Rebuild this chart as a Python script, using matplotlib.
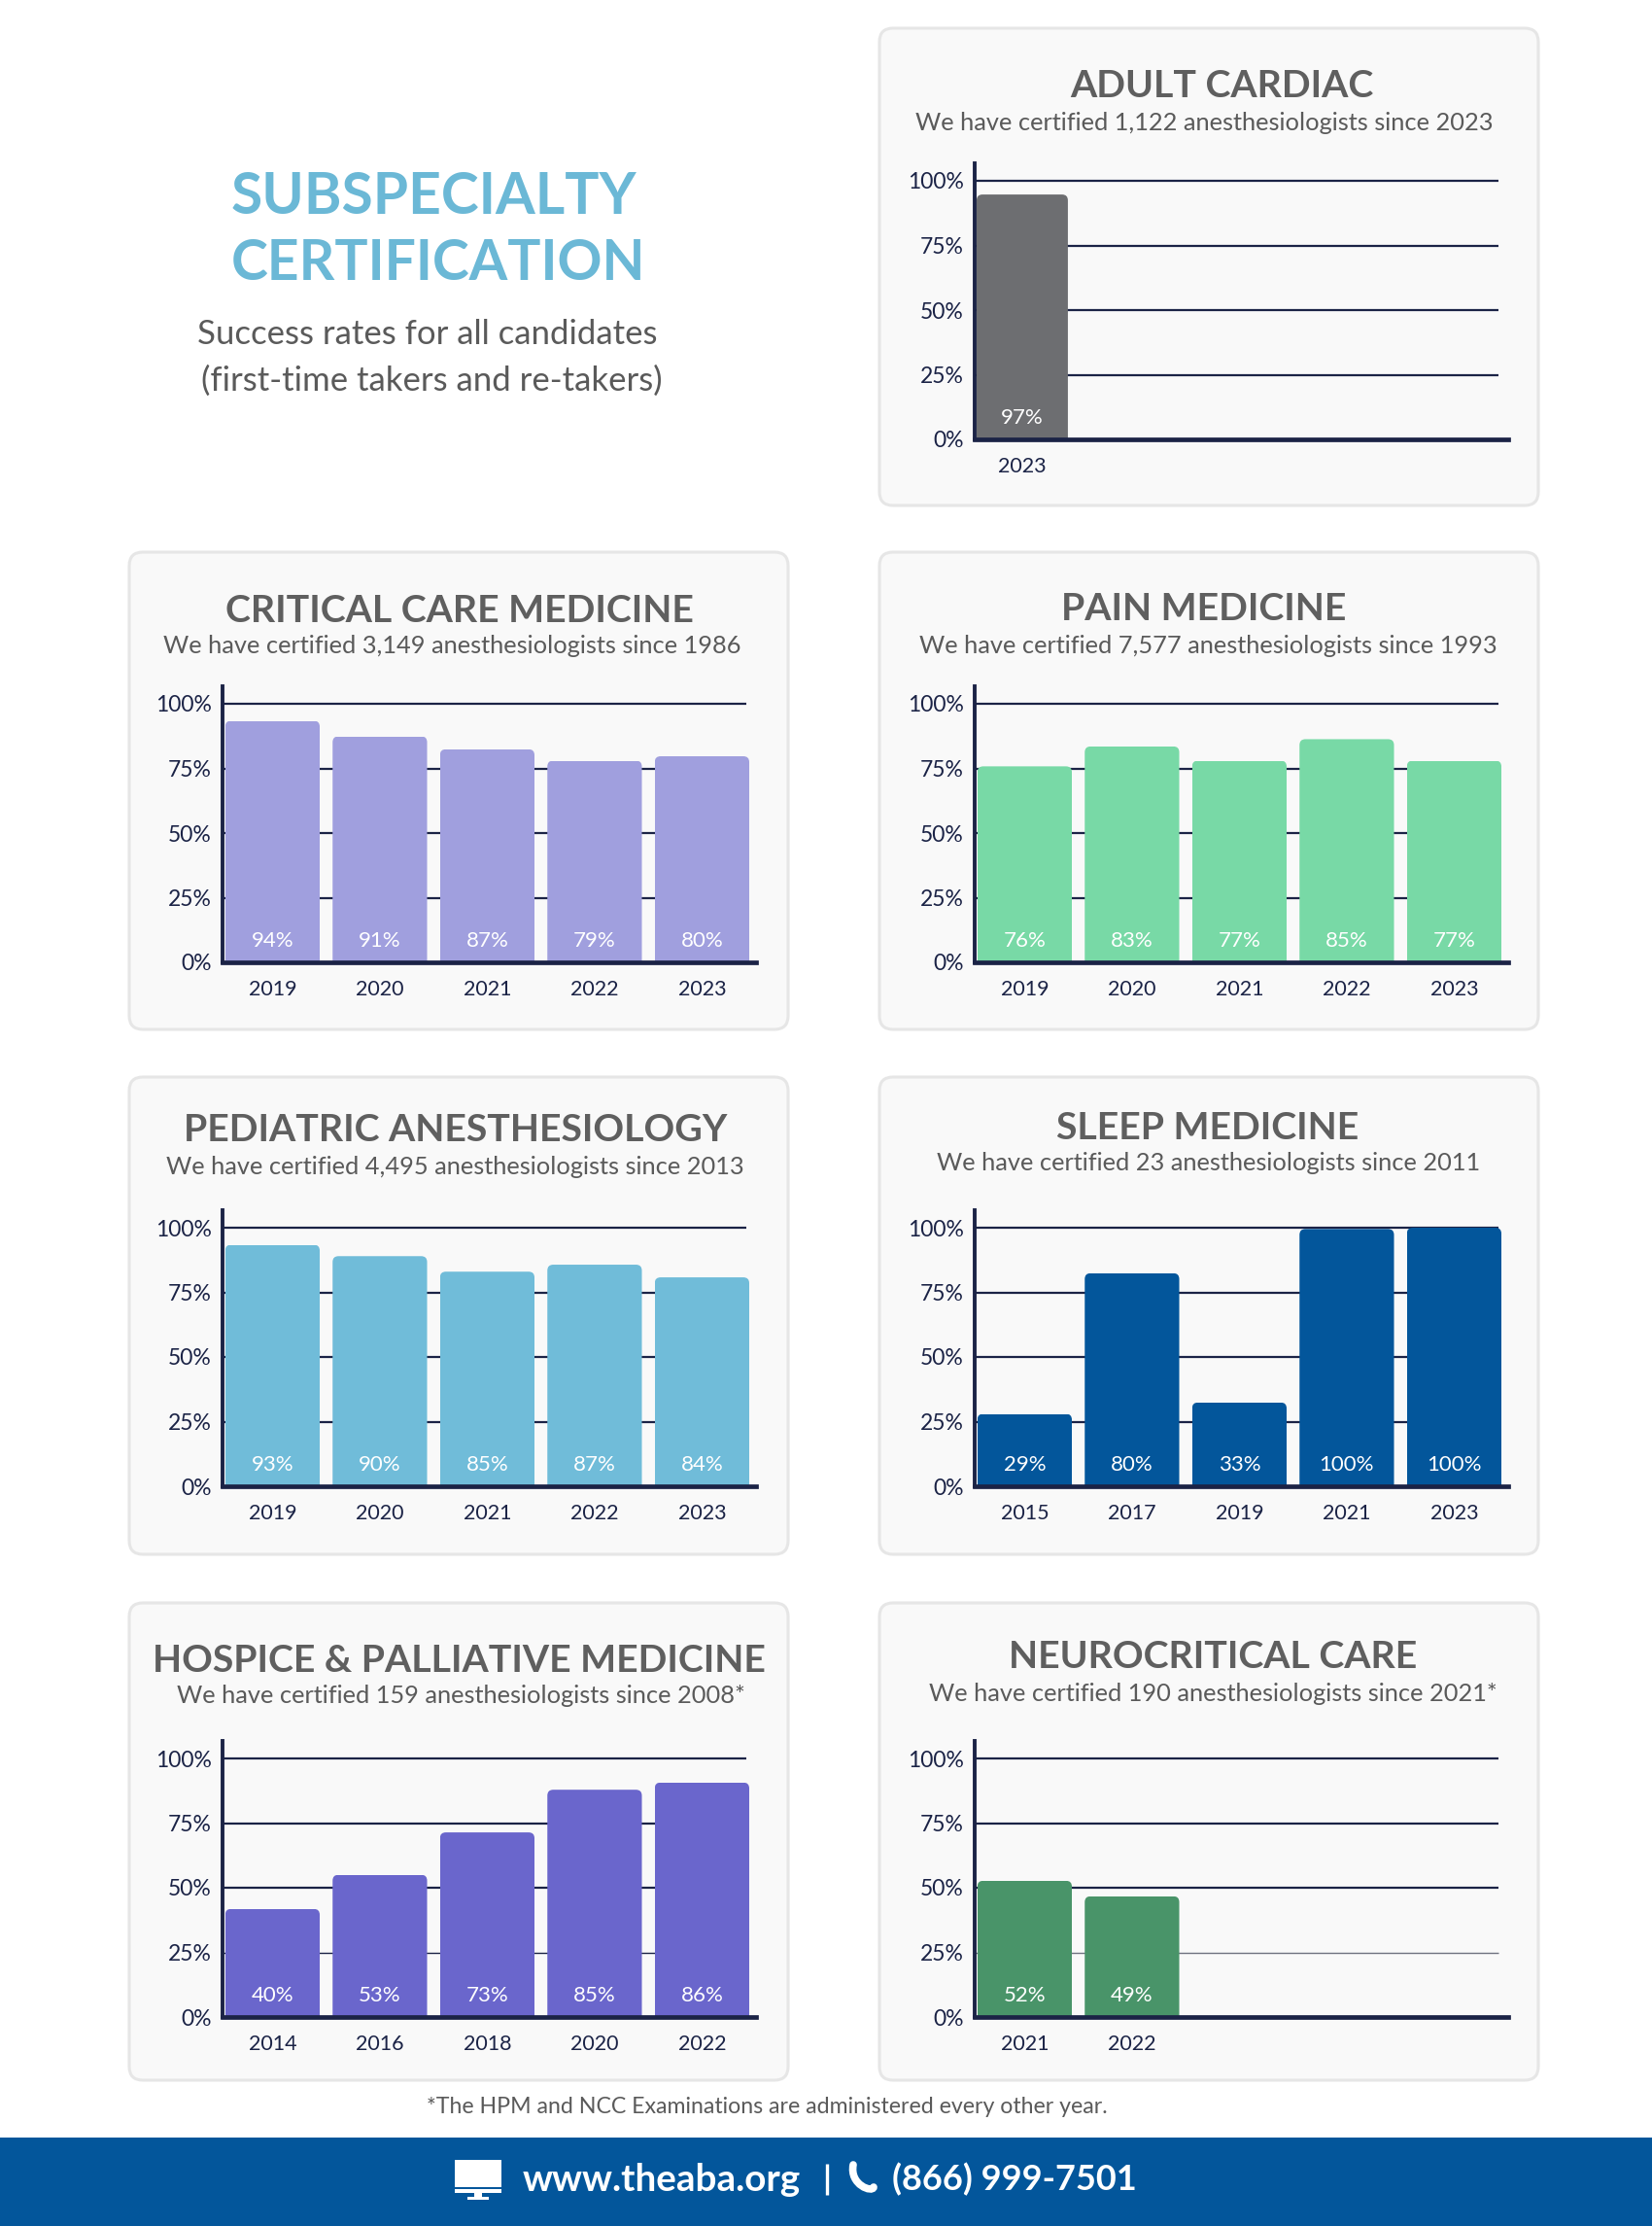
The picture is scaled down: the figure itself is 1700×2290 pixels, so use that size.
import matplotlib
matplotlib.use('Agg')
import matplotlib.pyplot as plt
from matplotlib.patches import FancyBboxPatch, Rectangle, PathPatch
from matplotlib.path import Path

plt.rcParams['font.family'] = ['Lato', 'DejaVu Sans']

# bar heights as drawn and the printed labels differ in the source, so both are kept
cardiac_years = ['2023']
cardiac_heights = [94.7]
cardiac_labels = ['97%']

critical_years = ['2019', '2020', '2021', '2022', '2023']
critical_heights = [93.4, 87.4, 82.4, 78.0, 79.7]
critical_labels = ['94%', '91%', '87%', '79%', '80%']

pain_years = ['2019', '2020', '2021', '2022', '2023']
pain_heights = [75.8, 83.5, 78.0, 86.3, 78.0]
pain_labels = ['76%', '83%', '77%', '85%', '77%']

pediatric_years = ['2019', '2020', '2021', '2022', '2023']
pediatric_heights = [93.4, 89.0, 83.0, 85.7, 80.8]
pediatric_labels = ['93%', '90%', '85%', '87%', '84%']

sleep_years = ['2015', '2017', '2019', '2021', '2023']
sleep_heights = [28.0, 82.4, 32.4, 99.5, 100.0]
sleep_labels = ['29%', '80%', '33%', '100%', '100%']

hospice_years = ['2014', '2016', '2018', '2020', '2022']
hospice_heights = [41.8, 55.0, 71.4, 87.9, 90.7]
hospice_labels = ['40%', '53%', '73%', '85%', '86%']

neuro_years = ['2021', '2022']
neuro_heights = [52.7, 46.7]
neuro_labels = ['52%', '49%']

y_ticks = [0, 25, 50, 75, 100]
y_tick_labels = ['0%', '25%', '50%', '75%', '100%']

W, H = 1700, 2290
NAVY = '#1b2346'
TITLE_GREY = '#5f5f5f'
SUB_GREY = '#5a5a5a'
SLOT = 110.5
PLOT_W = 549
PLOT_H = 266
TOP_EXTRA = 18
TITLE_SIZE = 28.3
SUB_SIZE = 18.3

fig = plt.figure(figsize=(17, 22.9), dpi=100, facecolor='white')

# page layer in pixel coordinates for cards, headings and footer
page = fig.add_axes([0, 0, 1, 1], zorder=0)
page.set_xlim(0, W)
page.set_ylim(H, 0)
page.axis('off')


def add_panel(card_x, card_y, axis_x, base_y, title, title_xy, sub, sub_xy,
              years, heights, labels, color, low_line=(1.6, NAVY)):
    card = FancyBboxPatch((card_x + 12, card_y + 12), 678 - 24, 491 - 24,
                          boxstyle='round,pad=12,rounding_size=14',
                          fc='#f9f9f9', ec='#e6e6e6', lw=2.2)
    page.add_patch(card)
    page.text(title_xy[0], title_xy[1], title, ha='center', va='center',
              fontsize=TITLE_SIZE, fontweight='bold', color=TITLE_GREY)
    page.text(sub_xy[0], sub_xy[1], sub, ha='center', va='center',
              fontsize=SUB_SIZE, color=SUB_GREY)

    ax = fig.add_axes([axis_x / W, (H - base_y) / H, PLOT_W / W, (PLOT_H + TOP_EXTRA) / H],
                      zorder=1)
    ax.patch.set_alpha(0)
    x_left = -0.443 if len(years) == 1 else -0.465
    x_right = x_left + PLOT_W / SLOT
    ax.set_xlim(x_left, x_right)
    ax.set_ylim(0, 100 + TOP_EXTRA * 100 / PLOT_H)

    # the 25% line is fainter on some of the cards
    ax.hlines(y_ticks[2:], x_left, x_right - 10 / SLOT, color=NAVY, lw=1.6, zorder=1)
    ax.hlines(y_ticks[1], x_left, x_right - 10 / SLOT, color=low_line[1], lw=low_line[0], zorder=1)

    xs = list(range(len(years)))
    bar_width = 0.85 if len(years) == 1 else 0.88
    bars = ax.bar(xs, heights, width=bar_width, color=color, zorder=2)
    # round the top corners only, the lower part of the clip shape hides below the axis
    for bar in bars:
        clip = FancyBboxPatch((bar.get_x(), -10), bar.get_width(), bar.get_height() + 10,
                              boxstyle='round,pad=0,rounding_size=0.055',
                              mutation_aspect=41, transform=ax.transData)
        bar.set_clip_path(clip)

    for x, label in zip(xs, labels):
        ax.text(x, 8.2, label, ha='center', va='center', color='white',
                fontsize=16, zorder=3)

    for side in ['top', 'right']:
        ax.spines[side].set_visible(False)
    ax.spines['left'].set_color(NAVY)
    ax.spines['left'].set_linewidth(2.8)
    ax.spines['bottom'].set_color(NAVY)
    ax.spines['bottom'].set_linewidth(3.4)
    ax.spines['left'].set_zorder(4)
    ax.spines['bottom'].set_zorder(4)

    ax.set_xticks(xs)
    ax.set_xticklabels(years)
    ax.set_yticks(y_ticks)
    ax.set_yticklabels(y_tick_labels)
    ax.tick_params(axis='both', length=0, labelcolor=NAVY)
    ax.tick_params(axis='x', pad=13, labelsize=15.5)
    ax.tick_params(axis='y', pad=8, labelsize=16.5)
    return ax


# main heading
page.text(238, 203, 'SUBSPECIALTY', ha='left', va='center', fontsize=42.2,
          fontweight='bold', color='#6bb8d6')
page.text(238, 271, 'CERTIFICATION', ha='left', va='center', fontsize=41,
          fontweight='bold', color='#6bb8d6')
page.text(440, 344, 'Success rates for all candidates', ha='center', va='center',
          fontsize=25, color=SUB_GREY)
page.text(444, 392, '(first-time takers and re-takers)', ha='center', va='center',
          fontsize=25, color=SUB_GREY)

add_panel(905, 29, 1003, 452, 'ADULT CARDIAC', (1257, 89),
          'We have certified 1,122 anesthesiologists since 2023', (1239, 126),
          cardiac_years, cardiac_heights, cardiac_labels, '#6d6e71')
add_panel(133, 568, 229, 990, 'CRITICAL CARE MEDICINE', (473, 629),
          'We have certified 3,149 anesthesiologists since 1986', (465, 665),
          critical_years, critical_heights, critical_labels, '#a09fde')
add_panel(905, 568, 1003, 990, 'PAIN MEDICINE', (1239, 627),
          'We have certified 7,577 anesthesiologists since 1993', (1243, 664),
          pain_years, pain_heights, pain_labels, '#78d9a6')
add_panel(133, 1108, 229, 1529, 'PEDIATRIC ANESTHESIOLOGY', (469, 1163),
          'We have certified 4,495 anesthesiologists since 2013', (468, 1200),
          pediatric_years, pediatric_heights, pediatric_labels, '#70bcd9')
add_panel(905, 1108, 1003, 1529, 'SLEEP MEDICINE', (1243, 1161),
          'We have certified 23 anesthesiologists since 2011', (1244, 1197),
          sleep_years, sleep_heights, sleep_labels, '#03569b')
add_panel(133, 1649, 229, 2075, 'HOSPICE & PALLIATIVE MEDICINE', (472, 1708),
          'We have certified 159 anesthesiologists since 2008*', (474, 1744),
          hospice_years, hospice_heights, hospice_labels, '#6a66cc', low_line=(1.0, NAVY))
add_panel(905, 1649, 1003, 2075, 'NEUROCRITICAL CARE', (1248, 1705),
          'We have certified 190 anesthesiologists since 2021*', (1248, 1742),
          neuro_years, neuro_heights, neuro_labels, '#499469', low_line=(1.0, '#6f7280'))

page.text(789, 2167, '*The HPM and NCC Examinations are administered every other year.',
          ha='center', va='center', fontsize=16.7, color=SUB_GREY)

# footer band
page.add_patch(Rectangle((0, 2199), W, H - 2199, fc='#03569b', ec='none'))
page.add_patch(Rectangle((468, 2222), 48, 28, fc='white', ec='none'))
page.add_patch(Rectangle((468, 2252), 48, 4, fc='white', ec='none'))
page.add_patch(Rectangle((488, 2256), 8, 5, fc='white', ec='none'))
page.add_patch(Rectangle((481, 2260), 22, 3, fc='white', ec='none'))
page.text(538, 2242, 'www.theaba.org', ha='left', va='center', fontsize=27.8,
          fontweight='bold', color='white')
page.plot([851, 851], [2226, 2258], color='white', lw=2.4, solid_capstyle='butt')
handset = Path([(878, 2227), (874, 2248), (898, 2256), (899, 2250)],
               [Path.MOVETO, Path.CURVE4, Path.CURVE4, Path.CURVE4])
page.add_patch(PathPatch(handset, fc='none', ec='white', lw=5.5, capstyle='round'))
page.text(918, 2242, '(866) 999-7501', ha='left', va='center', fontsize=26,
          fontweight='bold', color='white')

fig.savefig('out.png', dpi=100)
